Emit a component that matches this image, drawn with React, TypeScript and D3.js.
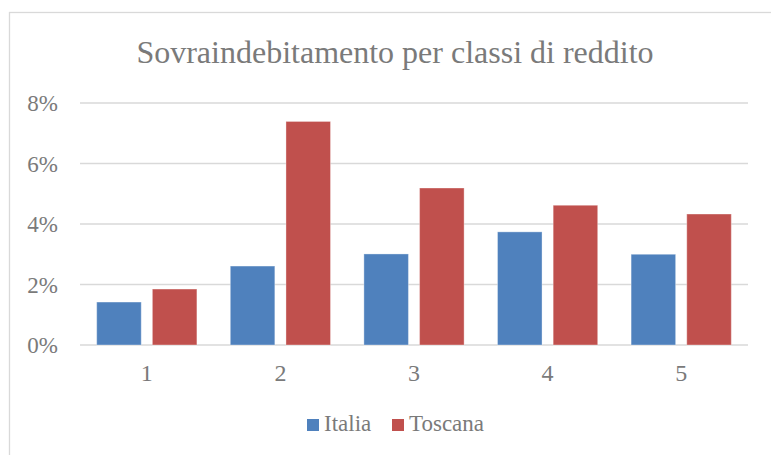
import { useEffect, useRef } from 'react';
import * as d3 from 'd3';

const categories = ['1', '2', '3', '4', '5'];
const seriesNames = ['Italia', 'Toscana'];
const italia = [1.42, 2.61, 3.01, 3.74, 3.0];
const toscana = [1.85, 7.39, 5.19, 4.62, 4.33];
const yTicks = [0, 2, 4, 6, 8];
const colors = ['#4f81bd', '#c0504d'];

const W = 771;
const H = 455;
const textColor = '#7a7a7a';
const font = "'Liberation Serif', Tinos, 'Times New Roman', Times, 'DejaVu Serif', serif";

export default function App() {
  const svgRef = useRef<SVGSVGElement>(null);

  useEffect(() => {
    if (!svgRef.current) {
      return;
    }
    const svg = d3.select(svgRef.current);
    svg.selectAll('*').remove();

    const margin = { left: 80, right: 23, top: 103, bottom: 110 };
    const x0 = margin.left;
    const x1 = W - margin.right;
    const yTop = margin.top;
    const yBottom = H - margin.bottom;

    // chart frame, runs off right and bottom like the reference
    svg
      .append('rect')
      .attr('x', 9.5)
      .attr('y', 12.5)
      .attr('width', W)
      .attr('height', H)
      .attr('fill', 'white')
      .attr('stroke', '#d9d9d9')
      .attr('stroke-width', 1.3);

    svg
      .append('text')
      .attr('x', (x0 + x1) / 2 - 19)
      .attr('y', 63)
      .attr('text-anchor', 'middle')
      .attr('font-family', font)
      .attr('font-size', 32)
      .attr('fill', textColor)
      .text('Sovraindebitamento per classi di reddito');

    const y = d3.scaleLinear().domain([0, 8]).range([yBottom, yTop]);
    const x = d3.scaleBand<string>().domain(categories).range([x0, x1]).padding(0);
    const xs = d3
      .scaleBand<string>()
      .domain(seriesNames)
      .range([0, x.bandwidth()])
      .paddingInner(0.2)
      .paddingOuter(0.3);

    const grid = svg.append('g');
    grid
      .selectAll('line')
      .data(yTicks)
      .enter()
      .append('line')
      .attr('x1', x0)
      .attr('x2', x1)
      .attr('y1', (d) => y(d))
      .attr('y2', (d) => y(d))
      .attr('stroke', '#d9d9d9')
      .attr('stroke-width', 1.5);

    grid
      .selectAll('text')
      .data(yTicks)
      .enter()
      .append('text')
      .attr('x', 58)
      .attr('y', (d) => y(d) + 8)
      .attr('text-anchor', 'end')
      .attr('font-family', font)
      .attr('font-size', 23)
      .attr('fill', textColor)
      .text((d) => `${d}%`);

    const values = [italia, toscana];
    seriesNames.forEach((name, si) => {
      svg
        .append('g')
        .selectAll('rect')
        .data(values[si])
        .enter()
        .append('rect')
        .attr('x', (_d, i) => (x(categories[i]) ?? 0) + (xs(name) ?? 0))
        .attr('y', (d) => y(d))
        .attr('width', xs.bandwidth())
        .attr('height', (d) => yBottom - y(d))
        .attr('fill', colors[si])
        .attr('stroke', 'rgba(255,255,255,0.35)')
        .attr('stroke-width', 1);
    });

    svg
      .append('g')
      .selectAll('text')
      .data(categories)
      .enter()
      .append('text')
      .attr('x', (d) => (x(d) ?? 0) + x.bandwidth() / 2)
      .attr('y', 381)
      .attr('text-anchor', 'middle')
      .attr('font-family', font)
      .attr('font-size', 24)
      .attr('fill', textColor)
      .text((d) => d);

    // legend
    const legendX = [307, 392];
    seriesNames.forEach((name, si) => {
      svg
        .append('rect')
        .attr('x', legendX[si])
        .attr('y', 419)
        .attr('width', 12)
        .attr('height', 12)
        .attr('fill', colors[si]);
      svg
        .append('text')
        .attr('x', legendX[si] + 17)
        .attr('y', 431)
        .attr('font-family', font)
        .attr('font-size', 23)
        .attr('fill', textColor)
        .text(name);
    });
  }, []);

  return (
    <svg
      ref={svgRef}
      width={W}
      height={H}
      style={{ position: 'absolute', left: 0, top: 0, display: 'block' }}
    />
  );
}
